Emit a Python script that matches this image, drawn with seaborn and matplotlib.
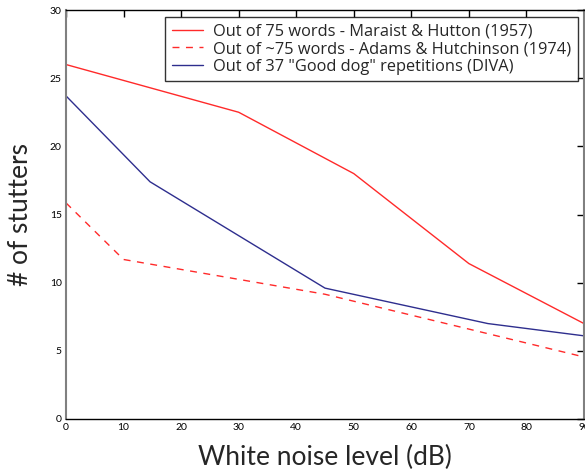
import pandas as pd
import matplotlib
matplotlib.use('Agg')
import matplotlib.pyplot as plt
import seaborn as sns

# dados
noise_maraist = [0, 30, 50, 70, 90]
stutters_maraist = [26.0, 22.5, 18.0, 11.4, 7.0]

noise_adams = [0, 10, 45, 90]
stutters_adams = [15.85, 11.7, 9.15, 4.55]

noise_diva = [0, 14.6, 45, 73.3, 90]
stutters_diva = [23.7, 17.4, 9.6, 7.0, 6.1]

labels = ['Out of 75 words - Maraist & Hutton (1957)',
          'Out of ~75 words - Adams & Hutchinson (1974)',
          'Out of 37 "Good dog" repetitions (DIVA)']

sns.set_style('white')
plt.rcParams['font.family'] = ['Lato', 'DejaVu Sans']

fig = plt.figure(figsize=(5.85, 4.74), dpi=100)
ax = fig.add_axes([66 / 585, 55 / 474, 518 / 585, 409 / 474])

red = '#ff2a2a'
blue = '#2e2e8e'
sns.lineplot(x=noise_maraist, y=stutters_maraist, ax=ax, color=red, lw=1, label=labels[0])
sns.lineplot(x=noise_adams, y=stutters_adams, ax=ax, color=red, lw=1, dashes=False,
             label=labels[1]).lines[-1].set_dashes((5, 4.7))
sns.lineplot(x=noise_diva, y=stutters_diva, ax=ax, color=blue, lw=1, label=labels[2])

ax.set_xlim(0, 90)
ax.set_ylim(0, 30)
ax.set_xticks(range(0, 91, 10))
ax.set_yticks(range(0, 31, 5))
ax.tick_params(direction='in', length=5, width=1, labelsize=7.5, colors='black',
               top=True, right=True, pad=3)
for side in ['top', 'bottom']:
    ax.spines[side].set_color('black')
    ax.spines[side].set_linewidth(1)
for side in ['left', 'right']:
    ax.spines[side].set_color('#808080')
    ax.spines[side].set_linewidth(1.5)

ax.set_xlabel('White noise level (dB)', fontsize=19, labelpad=9)
ax.set_ylabel('# of stutters', fontsize=19, labelpad=12)

leg = ax.legend(loc='upper right', bbox_to_anchor=(1 - 6 / 518, 1 - 7 / 409),
                prop={'family': ['Open Sans', 'DejaVu Sans'], 'size': 11.8},
                frameon=True, fancybox=False, borderaxespad=0,
                handlelength=1.9, handletextpad=0.65, labelspacing=0.1,
                borderpad=0.4)
leg.get_frame().set_edgecolor('black')
leg.get_frame().set_linewidth(1)

fig.savefig('out.png', dpi=100)
